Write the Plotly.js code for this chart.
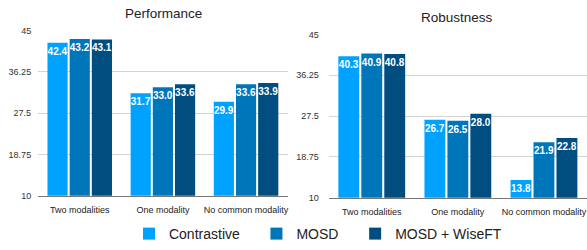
<!DOCTYPE html>
<html><head><meta charset="utf-8">
<script src="https://cdn.plot.ly/plotly-3.0.1.min.js"></script>
<style>html,body{margin:0;padding:0;background:#fff}#c{width:587px;height:250px}</style>
</head><body><div id="c"></div>
<script>
const categories = ["Two modalities", "One modality", "No common modality"];
const seriesNames = ["Contrastive", "MOSD", "MOSD + WiseFT"];
const perfContrastive = [42.4, 31.7, 29.9];
const perfMOSD = [43.2, 33.0, 33.6];
const perfWiseFT = [43.1, 33.6, 33.9];
const robContrastive = [40.3, 26.7, 13.8];
const robMOSD = [40.9, 26.5, 21.9];
const robWiseFT = [40.8, 28.0, 22.8];
const yTicks = [10, 18.75, 27.5, 36.25, 45];
const yTickText = ["10", "18.75", "27.5", "36.25", "45"];
const colors = ["#00A2FF", "#0076BA", "#004D80"];

const font = "Liberation Sans, Arial, Helvetica, sans-serif";
const perf = [perfContrastive, perfMOSD, perfWiseFT];
const rob = [robContrastive, robMOSD, robWiseFT];
const pad = "\u00a0\u00a0\u00a0";
const traces = [];
function addTraces(data, xa, ya, showLegend) {
  data.forEach((vals, i) => {
    traces.push({
      type: "bar", x: categories, y: vals, name: seriesNames[i] + (i < 2 ? pad : ""),
      xaxis: xa, yaxis: ya, showlegend: showLegend, legendgroup: seriesNames[i],
      marker: {color: colors[i]},
      text: vals.map(v => v.toFixed(1)), textposition: "inside", insidetextanchor: "end",
      textangle: 0, constraintext: "none",
      textfont: {color: "#fff", size: 10, family: font, weight: "bold"},
      hoverinfo: "skip"
    });
  });
}
addTraces(perf, "x", "y", true);
addTraces(rob, "x2", "y2", false);

const yBase = {range: [10, 45], tickvals: yTicks, ticktext: yTickText, showgrid: true,
  gridcolor: "#d3d3d3", gridwidth: 1, zeroline: false, showline: false,
  tickfont: {size: 9, color: "#333", family: font}, ticks: "", ticklen: 0};
const xBase = {showline: true, linecolor: "#777", linewidth: 1.5, showgrid: false,
  tickfont: {size: 9, color: "#222", family: font}, ticks: "", ticklabelstandoff: 5};

const layout = {
  width: 587, height: 250, margin: {l: 0, r: 0, t: 0, b: 0},
  paper_bgcolor: "#fff", plot_bgcolor: "#fff",
  barmode: "group", bargap: 0.2, bargroupgap: 0.09,
  font: {family: font},
  xaxis: Object.assign({}, xBase, {domain: [0.065, 0.49], anchor: "y"}),
  yaxis: Object.assign({}, yBase, {domain: [0.204, 0.876], anchor: "x", ticklabelstandoff: 6}),
  xaxis2: Object.assign({}, xBase, {domain: [0.56, 1.0], anchor: "y2"}),
  yaxis2: Object.assign({}, yBase, {domain: [0.196, 0.86], anchor: "x2", ticklabelstandoff: 9}),
  annotations: [
    {text: "Performance", x: 0.278, y: 1 - 14/250, xref: "paper", yref: "paper", showarrow: false,
     font: {size: 13.5, color: "#222", family: font}, xanchor: "center", yanchor: "middle"},
    {text: "Robustness", x: 0.778, y: 1 - 18/250, xref: "paper", yref: "paper", showarrow: false,
     font: {size: 13.5, color: "#222", family: font}, xanchor: "center", yanchor: "middle"}
  ],
  legend: {orientation: "h", x: 0.5417, xanchor: "center", y: 1 - 238/250, yanchor: "middle",
    font: {size: 14, color: "#222", family: font}, traceorder: "normal"},
  showlegend: true
};
Plotly.newPlot("c", traces, layout, {staticPlot: true});
</script></body></html>
